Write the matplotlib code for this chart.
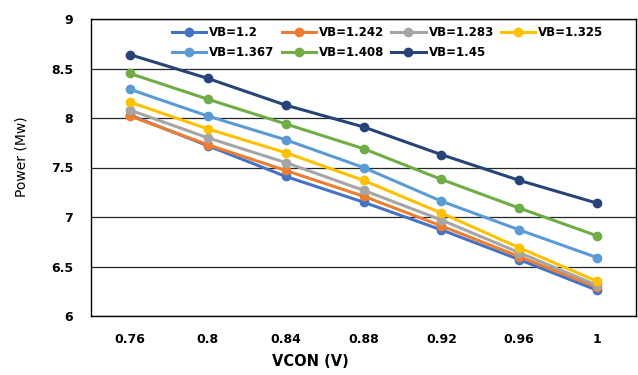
import matplotlib
matplotlib.use("Agg")
import matplotlib.pyplot as plt
import numpy as np

# data
vcon = ["0.76", "0.8", "0.84", "0.88", "0.92", "0.96", "1"]
vb_labels = ["VB=1.2", "VB=1.242", "VB=1.283", "VB=1.325",
             "VB=1.367", "VB=1.408", "VB=1.45"]
vb_1_2 = [8.03, 7.72, 7.41, 7.15, 6.87, 6.57, 6.26]
vb_1_242 = [8.02, 7.73, 7.47, 7.21, 6.91, 6.60, 6.29]
vb_1_283 = [8.08, 7.80, 7.55, 7.27, 6.97, 6.64, 6.31]
vb_1_325 = [8.16, 7.89, 7.65, 7.37, 7.04, 6.69, 6.35]
vb_1_367 = [8.29, 8.02, 7.78, 7.50, 7.16, 6.87, 6.59]
vb_1_408 = [8.45, 8.19, 7.94, 7.69, 7.38, 7.09, 6.81]
vb_1_45 = [8.64, 8.40, 8.13, 7.91, 7.63, 7.37, 7.14]

series = [vb_1_2, vb_1_242, vb_1_283, vb_1_325, vb_1_367, vb_1_408, vb_1_45]
colors = ["#4472C4", "#ED7D31", "#A5A5A5", "#FFC000",
          "#5B9BD5", "#70AD47", "#264478"]

fig = plt.figure(figsize=(6.38, 3.75), dpi=100)
ax = fig.add_axes([91 / 638, 59 / 375, 545 / 638, 297 / 375])

x = np.arange(len(vcon))
handles = []
for vals, lab, c in zip(series, vb_labels, colors):
    h, = ax.plot(x, vals, color=c, lw=2.2, marker="o", ms=6, label=lab, zorder=3)
    handles.append(h)

ax.set_xlim(-0.5, len(vcon) - 0.5)
ax.set_ylim(6, 9)
ax.set_yticks([6, 6.5, 7, 7.5, 8, 8.5, 9])
ax.set_yticklabels(["6", "6.5", "7", "7.5", "8", "8.5", "9"])
ax.set_xticks(x)
ax.set_xticklabels(vcon)
ax.tick_params(length=0, labelsize=9)
ax.tick_params(axis="y", pad=13)
ax.tick_params(axis="x", pad=12)
for t in ax.get_xticklabels() + ax.get_yticklabels():
    t.set_fontweight("bold")

ax.grid(axis="y", color="#262626", lw=0.9, zorder=0)
for s in ax.spines.values():
    s.set_color("black")
    s.set_linewidth(1.0)

fig.text(310 / 638, 1 - 362 / 375, "VCON (V)", ha="center", va="center",
         fontsize=10.5, fontweight="bold")
fig.text(22 / 638, 1 - 157 / 375, "Power (Mw)", ha="center", va="center",
         rotation=90, fontsize=10)

# legend is filled column by column, so reorder to read row by row
order = [0, 4, 1, 5, 2, 6, 3]
leg = ax.legend([handles[i] for i in order], [vb_labels[i] for i in order],
                loc="upper left", bbox_to_anchor=(0.138, 0.997), ncol=4,
                frameon=False, handlelength=2.9, handletextpad=0.25,
                columnspacing=0.6, labelspacing=0.65, borderpad=0,
                prop={"size": 8.5, "weight": "bold"})

fig.savefig("out.png", dpi=100)
